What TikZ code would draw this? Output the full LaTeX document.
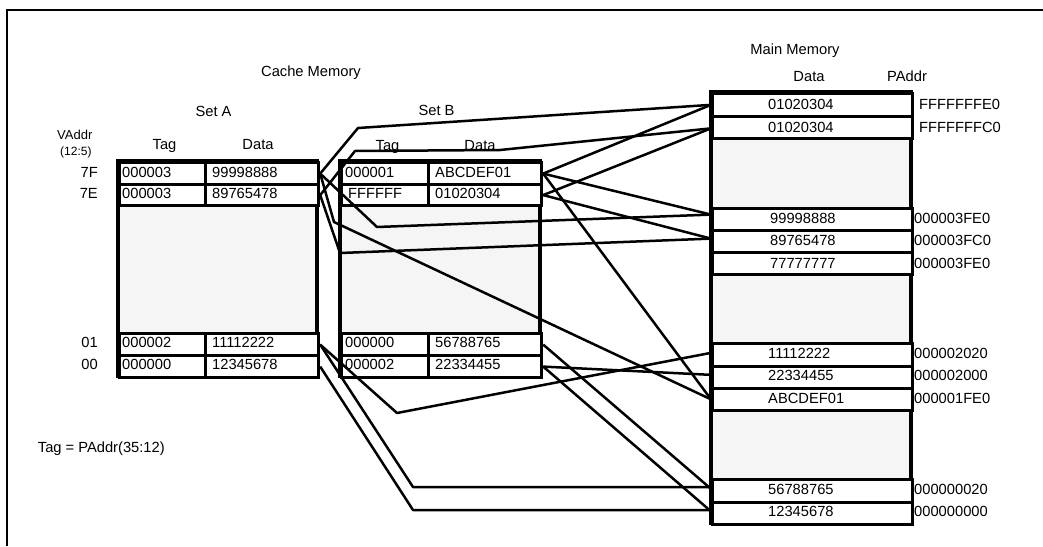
\documentclass[tikz,border=0pt]{standalone}
\usepackage{fontspec}
\setmainfont{Liberation Sans}
\begin{document}
\begin{tikzpicture}[x=1pt,y=-1pt,
  cell/.style={draw, line width=3.2pt, fill=white, inner sep=0pt, anchor=north west},
  shade/.style={draw, line width=3.2pt, fill=gray!8},
  wire/.style={line width=2.5pt, line join=round},
  lbl/.style={inner sep=0pt, font=\fontsize{14.7}{17}\selectfont},
  smalllbl/.style={inner sep=0pt, font=\fontsize{12}{14}\selectfont},
  tap/.style={circle, fill=black, inner sep=0pt, minimum size=3.4pt},
  frameline/.style={line width=2pt}]
\useasboundingbox (0,0) rectangle (1043,546);
\fill[white] (0,0) rectangle (1043,546);

% outer frame
\draw[frameline] (7,546) -- (7,10) -- (1043,10);

% ---------- headings ----------
\node[lbl, anchor=base] (mmtitle) at (795,54) {Main Memory};
\node[lbl, anchor=base] (mmdata) at (809,81.5) {Data};
\node[lbl, anchor=base] (mmpaddr) at (907,81.5) {PAddr};
\node[lbl, anchor=base] (ctitle) at (311,76) {Cache Memory};
\node[lbl, anchor=base] (seta) at (213.5,116.5) {Set A};
\node[lbl, anchor=base] (setb) at (436.5,115.7) {Set B};
\node[smalllbl, font=\fontsize{13}{15}\selectfont, anchor=base west] (vaddr) at (57,139.3) {VAddr};
\node[smalllbl, anchor=base west] (vbits) at (60,155) {(12:5)};
\node[lbl, anchor=base] (atag) at (164.5,149.5) {Tag};
\node[lbl, anchor=base] (adata) at (258,149.5) {Data};
\node[lbl, anchor=base] (btag) at (387.5,150) {Tag};
\node[lbl, anchor=base] (bdata) at (480,150) {Data};

% index labels
\node[lbl, anchor=base east] (i7f) at (98,177.3) {7F};
\node[lbl, anchor=base east] (i7e) at (98,198.5) {7E};
\node[lbl, anchor=base east] (i01) at (98,347.5) {01};
\node[lbl, anchor=base east] (i00) at (98,369.5) {00};

\node[lbl, anchor=base west] (tagdef) at (37.7,452.5) {Tag = PAddr(35:12)};

% ---------- cache set A ----------
\draw[shade] (118,161) rectangle (317,376);
\node[cell, minimum width=86pt, minimum height=22pt] (a7ftag) at (118,161) {};
\node[cell, minimum width=113pt, minimum height=22pt] (a7fdat) at (204,161) {};
\node[cell, minimum width=86pt, minimum height=21pt] (a7etag) at (118,183) {};
\node[cell, minimum width=113pt, minimum height=21pt] (a7edat) at (204,183) {};
\node[cell, minimum width=86pt, minimum height=22pt] (a01tag) at (118,332) {};
\node[cell, minimum width=113pt, minimum height=22pt] (a01dat) at (204,332) {};
\node[cell, minimum width=86pt, minimum height=22pt] (a00tag) at (118,354) {};
\node[cell, minimum width=113pt, minimum height=22pt] (a00dat) at (204,354) {};

\node[lbl, anchor=base west] (a7ftagt) at (122,177.3) {000003};
\node[lbl, anchor=base west] (a7fdatt) at (212,177.3) {99998888};
\node[lbl, anchor=base west] (a7etagt) at (122,198.5) {000003};
\node[lbl, anchor=base west] (a7edatt) at (212,198.5) {89765478};
\node[lbl, anchor=base west] (a01tagt) at (122,347.5) {000002};
\node[lbl, anchor=base west] (a01datt) at (212,347.5) {11112222};
\node[lbl, anchor=base west] (a00tagt) at (122,369.5) {000000};
\node[lbl, anchor=base west] (a00datt) at (212,369.5) {12345678};

% ---------- cache set B ----------
\draw[shade] (340,161) rectangle (540,376);
\node[cell, minimum width=87pt, minimum height=22pt] (b7ftag) at (340,161) {};
\node[cell, minimum width=113pt, minimum height=22pt] (b7fdat) at (427,161) {};
\node[cell, minimum width=87pt, minimum height=21pt] (b7etag) at (340,183) {};
\node[cell, minimum width=113pt, minimum height=21pt] (b7edat) at (427,183) {};
\node[cell, minimum width=87pt, minimum height=22pt] (b01tag) at (340,332) {};
\node[cell, minimum width=113pt, minimum height=22pt] (b01dat) at (427,332) {};
\node[cell, minimum width=87pt, minimum height=22pt] (b00tag) at (340,354) {};
\node[cell, minimum width=113pt, minimum height=22pt] (b00dat) at (427,354) {};

\node[lbl, anchor=base west] (b7ftagt) at (345,177.3) {000001};
\node[lbl, anchor=base west] (b7fdatt) at (435,177.3) {ABCDEF01};
\node[lbl, anchor=base west] (b7etagt) at (348,198.5) {FFFFFF};
\node[lbl, anchor=base west] (b7edatt) at (435,198.5) {01020304};
\node[lbl, anchor=base west] (b01tagt) at (345,347.5) {000000};
\node[lbl, anchor=base west] (b01datt) at (435,347.5) {56788765};
\node[lbl, anchor=base west] (b00tagt) at (345,369.5) {000002};
\node[lbl, anchor=base west] (b00datt) at (435,369.5) {22334455};

% ---------- main memory ----------
\draw[shade] (711,92) rectangle (911,523);
\node[cell, minimum width=200pt, minimum height=22.5pt] (r1) at (711,92) {};
\node[cell, minimum width=200pt, minimum height=22.5pt] (r2) at (711,114.5) {};
\node[cell, minimum width=200pt, minimum height=22pt] (r3) at (711,207) {};
\node[cell, minimum width=200pt, minimum height=22pt] (r4) at (711,229) {};
\node[cell, minimum width=200pt, minimum height=22pt] (r5) at (711,251) {};
\node[cell, minimum width=200pt, minimum height=22.5pt] (r6) at (711,342) {};
\node[cell, minimum width=200pt, minimum height=22.5pt] (r7) at (711,364.5) {};
\node[cell, minimum width=200pt, minimum height=21.5pt] (r8) at (711,387) {};
\node[cell, minimum width=200pt, minimum height=22.5pt] (r9) at (711,478) {};
\node[cell, minimum width=200pt, minimum height=22.5pt] (r10) at (711,500.5) {};

\node[lbl, anchor=base west] (r1t) at (768,109.3) {01020304};
\node[lbl, anchor=base west] (r2t) at (768,132.7) {01020304};
\node[lbl, anchor=base west] (r3t) at (770,223.3) {99998888};
\node[lbl, anchor=base west] (r4t) at (770,245.7) {89765478};
\node[lbl, anchor=base west] (r5t) at (770,268.3) {77777777};
\node[lbl, anchor=base west] (r6t) at (768,358.3) {11112222};
\node[lbl, anchor=base west] (r7t) at (768,380.7) {22334455};
\node[lbl, anchor=base west] (r8t) at (768,403.3) {ABCDEF01};
\node[lbl, anchor=base west] (r9t) at (768,494) {56788765};
\node[lbl, anchor=base west] (r10t) at (768,516.7) {12345678};

\node[lbl, anchor=base west] (p1) at (919,109.3) {FFFFFFFE0};
\node[lbl, anchor=base west] (p2) at (919,132.7) {FFFFFFFC0};
\node[lbl, anchor=base west] (p3) at (914,223.3) {000003FE0};
\node[lbl, anchor=base west] (p4) at (914,245.7) {000003FC0};
\node[lbl, anchor=base west] (p5) at (914,268.3) {000003FE0};
\node[lbl, anchor=base west] (p6) at (914,358.3) {000002020};
\node[lbl, anchor=base west] (p7) at (914,380.7) {000002000};
\node[lbl, anchor=base west] (p8) at (914,403.3) {000001FE0};
\node[lbl, anchor=base west] (p9) at (914,494) {000000020};
\node[lbl, anchor=base west] (p10) at (914,516.7) {000000000};

% ---------- bend points of the connectors ----------
\coordinate (k1) at (358,128);
\coordinate (k2a) at (355,151);
\coordinate (k2b) at (500,150);
\coordinate (k3) at (377,227);
\coordinate (k4) at (334,222);
\coordinate (k5) at (340,253);
\coordinate (k6) at (397,413);
\coordinate (k7) at (413,487);
\coordinate (k8) at (413,510);

% ---------- connectors from set A ----------
\draw[wire] (a7fdat.east) -- (k1) -- (r1.west);
\draw[wire] (a7edat.east) -- (k2a) -- (k2b) -- ([yshift=-1pt]r2.west);
\draw[wire] (a7fdat.east) -- (k3) -- ([yshift=5pt]r3.west);
\draw[wire] (a7fdat.east) -- (k4) -- (r8.west);
\draw[wire] (a7edat.east) -- (k5) -- ([yshift=3pt]r4.west);
\draw[wire] (a01dat.east) -- (k6) -- ([yshift=2pt]r6.west);
\draw[wire] (a01dat.east) -- (k7) -- (k7 -| r9.west);
\draw[wire] (a00dat.east) -- (k8) -- (k8 -| r10.west);

% ---------- connectors from set B ----------
\draw[wire] (b7fdat.east) -- (r1.west);
\draw[wire] (b7fdat.east) -- ([yshift=5pt]r3.west);
\draw[wire] (b7fdat.east) -- (r8.west);
\draw[wire] (b7edat.east) -- ([yshift=-1pt]r2.west);
\draw[wire] (b7edat.east) -- ([yshift=3pt]r4.west);
\draw[wire] (b01dat.east) -- ([yshift=2pt]r9.west);
\draw[wire] (b00dat.east) -- ([yshift=2.5pt]r7.west);
\draw[wire] (b00dat.east) -- ([yshift=2pt]r10.west);

% ---------- taps on the cache lines ----------
\foreach \c in {a7fdat,a7edat,a01dat,a00dat,b7fdat,b7edat,b01dat,b00dat}
  \node[tap] (tap-\c) at ([xshift=-1.6pt]\c.east) {};
\end{tikzpicture}
\end{document}
